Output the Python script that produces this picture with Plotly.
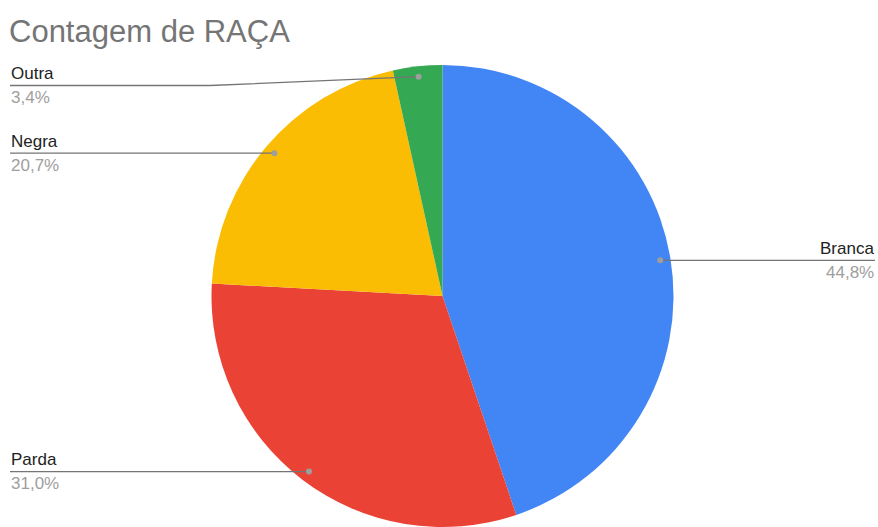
import math
import plotly.graph_objects as go

# Data
categories = ["Branca", "Parda", "Negra", "Outra"]
counts = [13, 9, 6, 1]
colors = ["#4285F4", "#EA4335", "#FBBC04", "#34A853"]

W, H = 878, 527
CX, CY, R = 442.5, 296, 231  # pie centre / radius in pixels


def px(x):
    return x / W


def py(y):
    return 1 - y / H


fig = go.Figure(go.Pie(
    labels=categories, values=counts, sort=False, direction="clockwise",
    rotation=0, textinfo="none", hole=0,
    marker=dict(colors=colors, line=dict(color="white", width=0)),
    domain=dict(x=[px(CX - R), px(CX + R)],
                y=[max(0.0, py(CY + R)), min(1.0, py(CY - R))]),
    showlegend=False,
))

total = sum(counts)
cum = 0
shapes = []
annotations = []
label_line_y = {"Outra": 85.5}
LBL = dict(family="Arial, 'Liberation Sans', sans-serif", size=17)
for name, v in zip(categories, counts):
    mid = (cum + v / 2) / total * 2 * math.pi
    cum += v
    dx = math.sin(mid) * R * 0.955
    dy = -math.cos(mid) * R * 0.955
    dotx, doty = CX + dx, CY + dy
    pct = f"{v / total * 100:.1f}".replace(".", ",") + "%"
    ly = label_line_y.get(name, doty)
    right = dx > 0
    if right:
        x_end = 875
        shapes.append(dict(type="line", xref="paper", yref="paper",
                           x0=px(dotx), y0=py(doty), x1=px(x_end), y1=py(ly),
                           line=dict(color="#757575", width=1.3)))
        anchor, tx = "right", px(x_end + 1)
    else:
        x_end = 10
        if ly != doty:
            path = (f"M {px(x_end)} {py(ly)} L {px(210)} {py(ly)} "
                    f"L {px(dotx)} {py(doty)}")
            shapes.append(dict(type="path", xref="paper", yref="paper", path=path,
                               line=dict(color="#757575", width=1.3)))
        else:
            shapes.append(dict(type="line", xref="paper", yref="paper",
                               x0=px(x_end), y0=py(ly), x1=px(dotx), y1=py(doty),
                               line=dict(color="#757575", width=1.3)))
        anchor, tx = "left", px(x_end - 1)
    shapes.append(dict(type="circle", xref="paper", yref="paper",
                       xsizemode="pixel", ysizemode="pixel",
                       xanchor=px(dotx), yanchor=py(doty),
                       x0=-3, x1=3, y0=-3, y1=3,
                       fillcolor="#9e9e9e", line=dict(width=0)))
    annotations.append(dict(xref="paper", yref="paper", x=tx, y=py(ly - 12),
                            text=name, showarrow=False, xanchor=anchor,
                            yanchor="middle",
                            font=dict(LBL, color="#222222")))
    annotations.append(dict(xref="paper", yref="paper", x=tx, y=py(ly + 12),
                            text=pct, showarrow=False, xanchor=anchor,
                            yanchor="middle",
                            font=dict(LBL, color="#9e9e9e")))

annotations.append(dict(xref="paper", yref="paper", x=px(7), y=py(31),
                        text="Contagem de RAÇA", showarrow=False,
                        xanchor="left", yanchor="middle",
                        font=dict(family="Arial, 'Liberation Sans', sans-serif",
                                  size=31, color="#757575")))

fig.update_layout(
    width=W, height=H, margin=dict(l=0, r=0, t=0, b=0),
    paper_bgcolor="white", plot_bgcolor="white",
    font=dict(family="Arial, 'Liberation Sans', sans-serif"),
    shapes=shapes, annotations=annotations,
)

fig.write_html("out.html", config={"displayModeBar": False},
               post_script="document.body.style.margin='0';")
